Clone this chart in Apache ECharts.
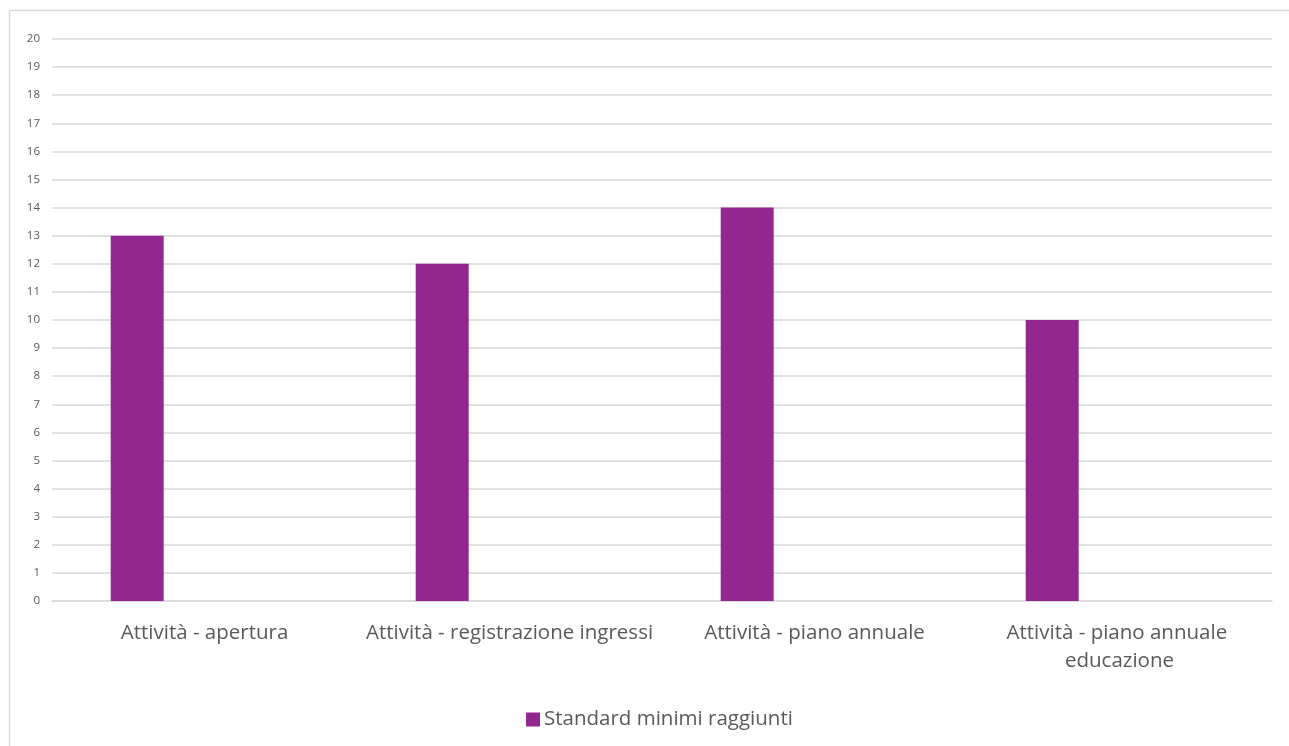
<!DOCTYPE html>
<html>
<head>
<meta charset="utf-8">
<script src="https://cdn.jsdelivr.net/npm/echarts@6/dist/echarts.min.js"></script>
<style>
  html, body { margin: 0; padding: 0; background: #ffffff; }
  #chart { width: 1289px; height: 746px; }
</style>
</head>
<body>
<div id="chart"></div>
<script>
// Activity categories and the count of minimum standards reached for each
const categories = [
  'Attività - apertura',
  'Attività - registrazione ingressi',
  'Attività - piano annuale',
  'Attività - piano annuale educazione'
];
const seriesName = 'Standard minimi raggiunti';
const standardValues = [13, 12, 14, 10];
const yTicks = { min: 0, max: 20, interval: 1 };

const chart = echarts.init(document.getElementById('chart'), null, { renderer: 'canvas' });

const textColor = '#595959';
const fontFamily = '"Open Sans", Calibri, sans-serif';

chart.setOption({
  animation: false,
  backgroundColor: '#ffffff',
  graphic: [{
    type: 'rect',
    shape: { x: 9.5, y: 10.5, width: 1300, height: 800 },
    style: { fill: 'none', stroke: '#d9d9d9', lineWidth: 1.5 },
    silent: true
  }],
  grid: { left: 52, right: 17, top: 39, bottom: 145, containLabel: false },
  legend: {
    data: [seriesName],
    left: 521,
    top: 704,
    itemWidth: 14,
    itemHeight: 14,
    icon: 'rect',
    textStyle: { color: textColor, fontSize: 20.5, fontFamily: fontFamily, padding: [0, 0, 0, -1] }
  },
  xAxis: {
    type: 'category',
    data: categories,
    axisLine: { lineStyle: { color: '#d9d9d9', width: 1.5 } },
    axisTick: { show: false },
    axisLabel: {
      color: textColor,
      fontSize: 20.5,
      fontFamily: fontFamily,
      margin: 18,
      lineHeight: 28,
      width: 300,
      overflow: 'break',
      interval: 0
    }
  },
  yAxis: {
    type: 'value',
    min: yTicks.min,
    max: yTicks.max,
    interval: yTicks.interval,
    axisLine: { show: false },
    axisTick: { show: false },
    axisLabel: { color: textColor, fontSize: 11.5, fontFamily: fontFamily, margin: 12 },
    splitLine: { lineStyle: { color: '#d9d9d9', width: 1.5 } }
  },
  series: [
    {
      name: seriesName,
      type: 'bar',
      data: standardValues,
      barWidth: 53,
      barGap: '154%',
      itemStyle: { color: '#92278f' }
    },
    {
      name: '',
      type: 'bar',
      data: [],
      barWidth: 53
    }
  ]
});
</script>
</body>
</html>
